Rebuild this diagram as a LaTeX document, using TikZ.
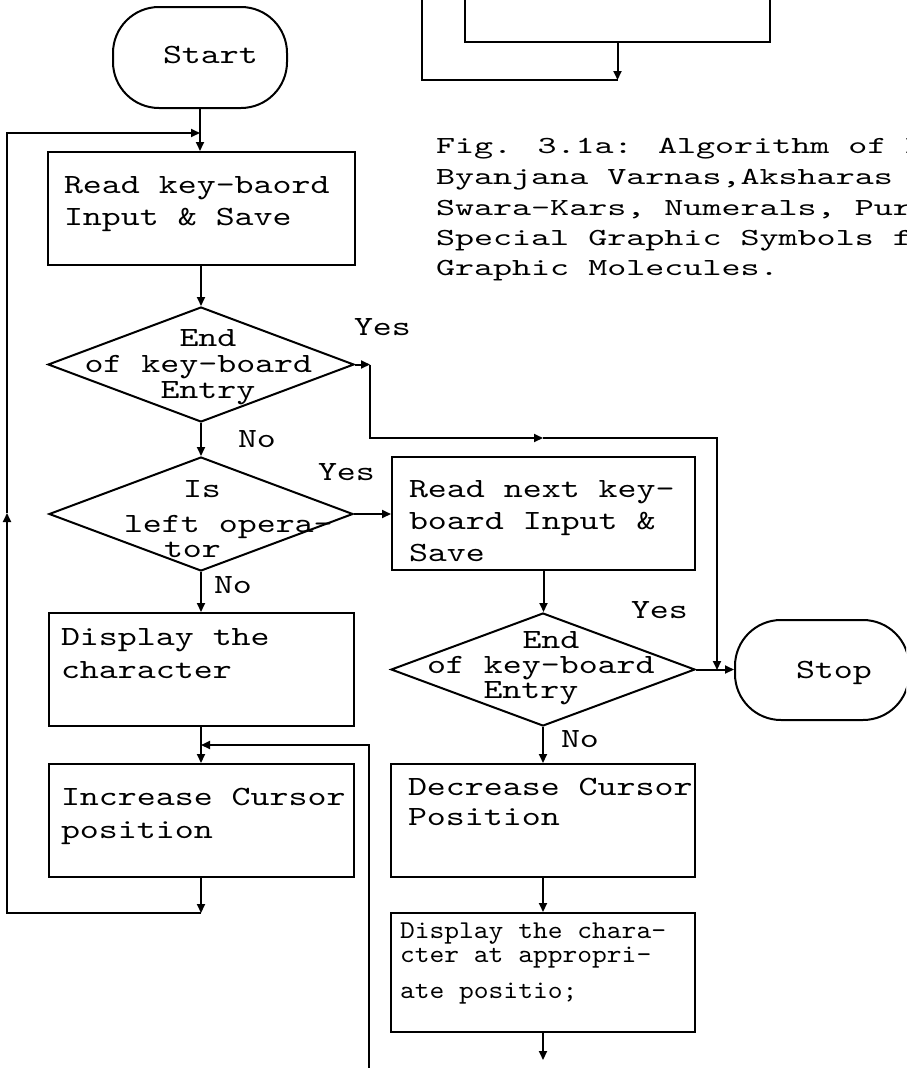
\documentclass[tikz,border=0pt]{standalone}
\usepackage{fontspec}
\newfontfamily\tw[FakeStretch=1.3]{lmmono10-regular.otf}
\newfontfamily\twc[FakeStretch=1.48]{lmmono10-regular.otf}
\newfontfamily\tws[FakeStretch=1.1]{lmmono10-regular.otf}
\usetikzlibrary{shapes.geometric,arrows.meta}
\tikzset{
  box/.style={draw, rectangle, inner sep=0pt},
  decision/.style={draw, diamond, inner sep=0pt},
  term/.style={draw, rectangle, rounded corners=46pt, inner sep=0pt},
  lbl/.style={anchor=base west, inner sep=0pt, font=\tw\fontsize{27.8pt}{30pt}\selectfont},
  captext/.style={anchor=base west, inner sep=0pt, font=\twc\fontsize{24.5pt}{30pt}\selectfont},
  smalltext/.style={anchor=base west, inner sep=0pt, font=\tws\fontsize{25.6pt}{28pt}\selectfont},
  arr/.style={-{Triangle[length=9pt,width=8pt]}},
}
\begin{document}
\begin{tikzpicture}[x=1pt,y=-1pt,line width=2pt]
\useasboundingbox (0,0) rectangle (906,1068);
\clip (0,0) rectangle (906,1068);

% ---- top partial box
\node[box, minimum width=305pt, minimum height=144pt] (topbox) at (617.5,-30) {};
\coordinate (o1) at (422,-5);
\coordinate (o2) at (422,80);
\coordinate (o3) at (617.5,80);
\draw (o1) -- (o2) -- (o3);
\draw[arr] (topbox.south) -- (o3);

% ---- terminals
\node[term, minimum width=174pt, minimum height=101pt] (start) at (200,57.5) {};
\node[lbl] (tstart) at (162,63) {Start};

\node[term, minimum width=174pt, minimum height=100pt] (stop) at (822,670) {};
\node[lbl] (tstop) at (795,678) {Stop};

% ---- left column
\node[box, minimum width=307pt, minimum height=113pt] (read1) at (201,208.5) {};
\node[lbl] (r1a) at (63,193) {Read key-baord};
\node[lbl] (r1b) at (63,225) {Input \& Save};

\node[decision, minimum width=306pt, minimum height=115pt] (d1) at (201,364.5) {};
\node[lbl] (d1a) at (178.5,346) {End};
\node[lbl] (d1b) at (83.5,372) {of key-board};
\node[lbl] (d1c) at (159.5,398) {Entry};

\node[decision, minimum width=304pt, minimum height=114pt] (d2) at (201,514) {};
\node[lbl] (d2a) at (182,497) {Is};
\node[lbl] (d2b) at (123,532) {left opera-};
\node[lbl] (d2c) at (163,557) {tor};

\node[box, minimum width=305pt, minimum height=113pt] (disp) at (201,669.5) {};
\node[lbl] (dpa) at (60,645) {Display the};
\node[lbl] (dpb) at (60,678) {character};

\node[box, minimum width=305pt, minimum height=113pt] (inc) at (201,820.5) {};
\node[lbl] (ina) at (60,805) {Increase Cursor};
\node[lbl] (inb) at (60,838) {position};

% ---- right column
\node[box, minimum width=303pt, minimum height=113pt] (readnext) at (543.5,513.5) {};
\node[lbl] (rna) at (408,497) {Read next key-};
\node[lbl] (rnb) at (408,529) {board Input \&};
\node[lbl] (rnc) at (408,561) {Save};

\node[decision, minimum width=304pt, minimum height=113pt] (d3) at (543,669.5) {};
\node[lbl] (d3a) at (521.5,648) {End};
\node[lbl] (d3b) at (426,673) {of key-board};
\node[lbl] (d3c) at (482.5,698) {Entry};

\node[box, minimum width=304pt, minimum height=113pt] (dec) at (543,820.5) {};
\node[lbl] (dca) at (407,795) {Decrease Cursor};
\node[lbl] (dcb) at (407,825) {Position};

\node[box, minimum width=304pt, minimum height=119pt] (dispat) at (543,972.5) {};
\node[smalltext] (daa) at (399,938) {Display the chara-};
\node[smalltext] (dab) at (399,962) {cter at appropri-};
\node[smalltext] (dac) at (399,998) {ate positio;};

% ---- caption
\node[captext] (c1) at (435,153) {Fig. 3.1a: Algorithm of M};
\node[captext] (c2) at (435,184) {Byanjana Varnas,Aksharas};
\node[captext] (c3) at (435,215) {Swara-Kars, Numerals, Pur};
\node[captext] (c4) at (435,245) {Special Graphic Symbols f};
\node[captext] (c5) at (435,275) {Graphic Molecules.};

% ---- branch labels
\node[lbl] (yes1) at (353,335) {Yes};
\node[lbl] (no1) at (237,447) {No};
\node[lbl] (yes2) at (317,480) {Yes};
\node[lbl] (no2) at (213,593) {No};
\node[lbl] (yes3) at (630,618) {Yes};
\node[lbl] (no3) at (560,747) {No};

% ---- connectors
\coordinate (lj) at (200,133);
\draw[arr] (start.south) -- (start.south |- read1.north);
\draw[arr] (read1.south) -- (d1.north);
\draw[arr] (d1.south) -- (d2.north);
\draw[arr] (d2.south) -- (disp.north);
\draw[arr] (disp.south) -- (inc.north);

\coordinate (lb) at (201,913);
\coordinate (lc) at (7,913);
\coordinate (lm) at (7,513);
\coordinate (lt) at (7,133);
\draw[arr] (inc.south) -- (lb);
\draw[arr] (lb) -- (lc) -- (lm);
\draw[arr] (lm) -- (lt) -- (lj);

\coordinate (y1) at (370,364.5);
\coordinate (y2) at (370,438);
\coordinate (y3) at (543,438);
\coordinate (y4) at (717,438);
\coordinate (y5) at (717,670);
\draw[arr] (d1.east) -- (y1);
\draw[arr] (y1) -- (y2) -- (y3);
\draw[arr] (y3) -- (y4) -- (y5);

\draw[arr] (d2.east) -- (d2.east -| readnext.west);
\draw[arr] (readnext.south) -- (readnext.south |- d3.north);
\draw[arr] (d3.east) -- (d3.east -| stop.west);
\draw[arr] (d3.south) -- (dec.north);
\draw[arr] (dec.south) -- (dispat.north);
\coordinate (fin) at (543,1060);
\draw[arr] (dispat.south) -- (fin);

\coordinate (ra) at (369,1075);
\coordinate (rb) at (369,745);
\coordinate (rc) at (201,745);
\draw[arr] (ra) -- (rb) -- (rc);
\end{tikzpicture}
\end{document}
